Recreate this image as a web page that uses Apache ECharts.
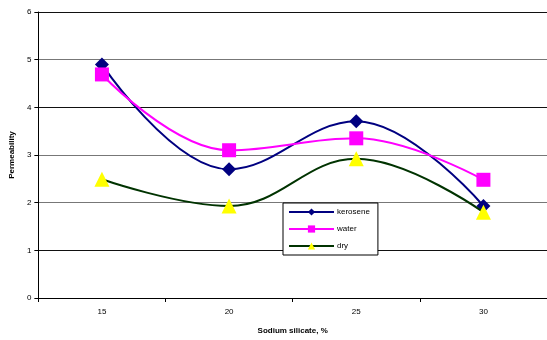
<!DOCTYPE html>
<html>
<head>
<meta charset="utf-8">
<script src="https://cdn.jsdelivr.net/npm/echarts@6/dist/echarts.min.js"></script>
<style>
  html, body { margin: 0; padding: 0; background: #fff; }
  #chart { width: 547px; height: 340px; }
</style>
</head>
<body>
<div id="chart"></div>
<script>
// Sodium silicate content (%) on the category axis
const categories = ['15', '20', '25', '30'];
// Permeability measured for each curing condition
const kerosene = [4.9, 2.7, 3.71, 1.93];
const water = [4.69, 3.1, 3.35, 2.48];
const dry = [2.49, 1.93, 2.92, 1.8];
// Value axis ticks
const yTicks = [0, 1, 2, 3, 4, 5, 6];

const font = 'Liberation Sans, Arial, sans-serif';
const chart = echarts.init(document.getElementById('chart'), null, { renderer: 'canvas' });

chart.setOption({
  animation: false,
  backgroundColor: '#fff',
  grid: { left: 35, right: -5, top: 12, bottom: 37, containLabel: false },
  legend: {
    data: ['kerosene', 'water', 'dry'],
    orient: 'vertical',
    left: 283, top: 203,
    width: 98,
    padding: [5, 8, 5, 5],
    itemGap: 9,
    itemWidth: 45,
    itemHeight: 9,
    borderColor: '#000',
    borderWidth: 1,
    backgroundColor: '#fff',
    textStyle: { fontFamily: font, fontSize: 8, color: '#000', padding: [0, 0, 0, -2] }
  },
  xAxis: {
    type: 'category',
    data: categories,
    boundaryGap: true,
    name: 'Sodium silicate, %',
    nameLocation: 'middle',
    nameGap: 29,
    nameTextStyle: { fontFamily: font, fontSize: 8, fontWeight: 'bold', color: '#000' },
    axisLine: { lineStyle: { color: '#000', width: 1 } },
    axisTick: { show: true, length: 4, lineStyle: { color: '#000' } },
    axisLabel: { fontFamily: font, fontSize: 8, color: '#000', margin: 10 }
  },
  yAxis: {
    type: 'value',
    min: yTicks[0], max: yTicks[yTicks.length - 1], interval: 1,
    name: 'Permeability',
    nameLocation: 'middle',
    nameGap: 18,
    nameRotate: 90,
    nameTextStyle: { fontFamily: font, fontSize: 8, fontWeight: 'bold', color: '#000' },
    axisLine: { show: true, lineStyle: { color: '#000', width: 1 } },
    axisTick: { show: true, length: 4, lineStyle: { color: '#000' } },
    axisLabel: { fontFamily: font, fontSize: 8, color: '#000', margin: 7 },
    splitLine: {
      show: true,
      lineStyle: { color: ['#000', '#111', '#777', '#777', '#111', '#777', '#111'], width: 1 }
    }
  },
  series: [
    {
      name: 'kerosene', type: 'line', data: kerosene, smooth: 0.4,
      symbol: 'diamond', symbolSize: 14,
      lineStyle: { color: '#000080', width: 2 },
      itemStyle: { color: '#000080' },
      z: 2
    },
    {
      name: 'water', type: 'line', data: water, smooth: 0.4,
      symbol: 'rect', symbolSize: 14,
      lineStyle: { color: '#FF00FF', width: 2 },
      itemStyle: { color: '#FF00FF' },
      z: 3
    },
    {
      name: 'dry', type: 'line', data: dry, smooth: 0.4,
      symbol: 'triangle', symbolSize: 15,
      lineStyle: { color: '#003300', width: 2 },
      itemStyle: { color: '#FFFF00' },
      z: 4
    }
  ]
});
</script>
</body>
</html>
